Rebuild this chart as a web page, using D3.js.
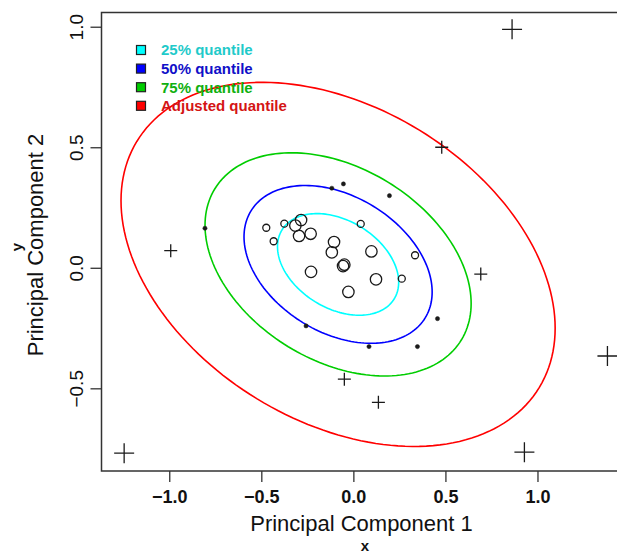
<!DOCTYPE html>
<html>
<head>
<meta charset="utf-8">
<script src="https://cdn.jsdelivr.net/npm/d3@7"></script>
<style>
  html, body { margin: 0; padding: 0; background: #fff; }
  svg { display: block; font-family: "Liberation Sans", Arial, sans-serif; }
</style>
</head>
<body>
<svg id="chart"></svg>
<script>
// points (robust PCA scores) and the symbol group each one falls in
// group: 0 big circle, 1 small circle, 2 dot, 3 small plus, 4 big plus
const pc1 = [-0.284, -0.315, -0.295, -0.232, -0.105, -0.117, 0.098, -0.056, -0.049, -0.230, 0.123, -0.027,
  -0.473, -0.375, -0.433, 0.040, 0.335, 0.263,
  -0.806, -0.117, -0.054, 0.196, 0.457, -0.257, 0.085, 0.348,
  -0.992, 0.692, -0.049, 0.136, 0.480,
  0.862, 1.380, 0.929, -1.245];
const pc2 = [0.198, 0.175, 0.132, 0.141, 0.107, 0.064, 0.068, 0.007, 0.013, -0.017, -0.048, -0.100,
  0.166, 0.183, 0.110, 0.182, 0.052, -0.045,
  0.164, 0.330, 0.348, 0.299, -0.211, -0.241, -0.327, -0.327,
  0.071, -0.026, -0.462, -0.558, 0.500,
  0.989, -0.366, -0.765, -0.769];
const group = [0, 0, 0, 0, 0, 0, 0, 0, 0, 0, 0, 0,
  1, 1, 1, 1, 1, 1,
  2, 2, 2, 2, 2, 2, 2, 2,
  3, 3, 3, 3, 3,
  4, 4, 4, 4];

// robust location / scatter used for the ellipses
const center = [-0.083, 0.014];
const sdPC = [0.434, 0.278];
const corrPC = -0.35;

// chi-square(2) levels: 25%, 50%, 75%, adjusted quantile
const quantileChisq = [0.575, 1.386, 2.773, 7.38];
const quantileLabels = ["25% quantile", "50% quantile", "75% quantile", "Adjusted quantile"];

const xTicks = [-1, -0.5, 0, 0.5, 1];
const yTicks = [-0.5, 0, 0.5, 1];

const lineColors = ["#00ffff", "#0000ff", "#00cd00", "#ff0000"];
const textColors = ["#1fcaca", "#1010c8", "#10b010", "#d41414"];

const W = 617, H = 554;
const box = { left: 101.5, top: 12.5, right: 621.8, bottom: 471 };

const svg = d3.select("#chart").attr("width", W).attr("height", H);

const x = d3.scaleLinear().domain([-1.368, 1.458]).range([box.left, box.right]);
const y = d3.scaleLinear().domain([-0.843, 1.059]).range([box.bottom, box.top]);

svg.append("defs").append("clipPath").attr("id", "plotclip")
  .append("rect").attr("x", box.left).attr("y", box.top)
  .attr("width", box.right - box.left).attr("height", box.bottom - box.top);

const plot = svg.append("g").attr("clip-path", "url(#plotclip)");

// ellipses: center + sqrt(q) * chol(S) * (cos t, sin t)
const steps = d3.range(0, 181).map(i => i / 180 * 2 * Math.PI);
const line = d3.line().x(d => x(d[0])).y(d => y(d[1]));
quantileChisq.forEach((q, i) => {
  const r = Math.sqrt(q);
  const pts = steps.map(t => [
    center[0] + r * sdPC[0] * Math.cos(t),
    center[1] + r * sdPC[1] * (corrPC * Math.cos(t) + Math.sqrt(1 - corrPC * corrPC) * Math.sin(t))
  ]);
  plot.append("path").attr("d", line(pts) + "Z")
    .attr("fill", "none").attr("stroke", lineColors[i]).attr("stroke-width", 1.6);
});

// symbols
const pts = pc1.map((v, i) => ({ x: v, y: pc2[i], g: group[i] }));
const ink = "#1a1a1a";
plot.selectAll("circle.pt").data(pts.filter(d => d.g < 3)).enter().append("circle")
  .attr("class", "pt")
  .attr("cx", d => x(d.x)).attr("cy", d => y(d.y))
  .attr("r", d => d.g === 0 ? 5.7 : d.g === 1 ? 3.5 : 2.1)
  .attr("fill", d => d.g === 2 ? ink : "none")
  .attr("stroke", ink).attr("stroke-width", d => d.g === 2 ? 0.5 : 1.3);

plot.selectAll("path.plus").data(pts.filter(d => d.g >= 3)).enter().append("path")
  .attr("class", "plus")
  .attr("d", d => {
    const s = d.g === 3 ? 6.5 : 10, cx = x(d.x), cy = y(d.y);
    return `M${cx - s},${cy}H${cx + s}M${cx},${cy - s}V${cy + s}`;
  })
  .attr("stroke", ink).attr("stroke-width", 1.3).attr("fill", "none");

// frame
svg.append("rect").attr("x", box.left).attr("y", box.top)
  .attr("width", box.right - box.left).attr("height", box.bottom - box.top)
  .attr("fill", "none").attr("stroke", "#333").attr("stroke-width", 1.5);

// axes
const xAxis = svg.append("g").attr("transform", `translate(0,${box.bottom})`)
  .call(d3.axisBottom(x).tickValues(xTicks).tickFormat(d3.format(".1f")).tickSize(11).tickPadding(8));
xAxis.select(".domain").remove();
xAxis.selectAll("line").attr("stroke", "#333").attr("stroke-width", 1.3);
xAxis.selectAll("text").attr("font-size", 18).attr("font-weight", "bold").attr("fill", "#111")
  .attr("font-family", "Liberation Sans, Arial, sans-serif");

const yAxis = svg.append("g").attr("transform", `translate(${box.left},0)`)
  .call(d3.axisLeft(y).tickValues(yTicks).tickFormat(d3.format(".1f")).tickSize(11));
yAxis.select(".domain").remove();
yAxis.selectAll("line").attr("stroke", "#333").attr("stroke-width", 1.3);
yAxis.selectAll("text")
  .attr("transform", "rotate(-90)")
  .attr("x", 0).attr("y", -18.5).attr("dy", 0)
  .attr("text-anchor", "middle")
  .attr("font-size", 19).attr("fill", "#111")
  .attr("font-family", "Liberation Sans, Arial, sans-serif");

// axis titles
svg.append("text").attr("x", 361.5).attr("y", 531).attr("text-anchor", "middle")
  .attr("font-size", 22).attr("fill", "#111").text("Principal Component 1");
svg.append("text").attr("x", 365).attr("y", 551).attr("text-anchor", "middle")
  .attr("font-size", 15).attr("font-weight", "bold").attr("fill", "#111").text("x");
svg.append("text").attr("transform", "translate(43,245) rotate(-90)").attr("text-anchor", "middle")
  .attr("font-size", 22).attr("fill", "#111").text("Principal Component 2");
svg.append("text").attr("transform", "translate(22,247) rotate(-90)").attr("text-anchor", "middle")
  .attr("font-size", 15).attr("font-weight", "bold").attr("fill", "#111").text("y");

// legend
const legend = svg.append("g").attr("transform", "translate(136.5,50)");
const rows = legend.selectAll("g").data(quantileLabels).enter().append("g")
  .attr("transform", (d, i) => `translate(0,${i * 18.6})`);
rows.append("rect").attr("x", 0).attr("y", -4.5).attr("width", 9).attr("height", 9)
  .attr("fill", (d, i) => lineColors[i]).attr("stroke", "#222").attr("stroke-width", 1.2);
rows.append("text").attr("x", 24.5).attr("y", 5.4)
  .attr("font-size", 15).attr("font-weight", "bold")
  .attr("fill", (d, i) => textColors[i]).text(d => d);
</script>
</body>
</html>
